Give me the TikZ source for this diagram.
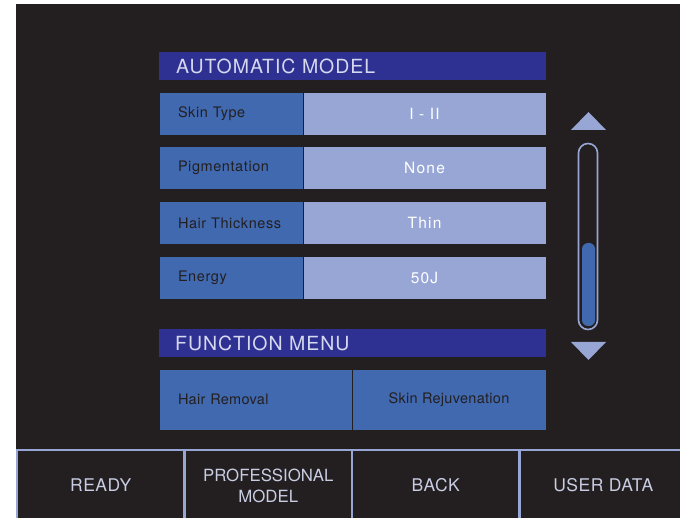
\documentclass[tikz,border=0pt]{standalone}
\usepackage{fontspec}
\setmainfont{TeX Gyre Heros}
\definecolor{panel}{HTML}{231F20}
\definecolor{titleblue}{HTML}{2E3192}
\definecolor{keyblue}{HTML}{4169B0}
\definecolor{lav}{HTML}{98A6D6}
\definecolor{softtext}{HTML}{D6D9EE}
\definecolor{tabtext}{HTML}{C9CDE3}

\begin{document}
\begin{tikzpicture}[x=1pt,y=-1pt,
    title/.style={fill=titleblue,text=softtext,anchor=north west,inner sep=0pt,inner xsep=17pt,
        text width=353pt,align=left,minimum height=28pt,font=\fontsize{19.5}{20}\selectfont\addfontfeature{LetterSpace=5}},
    key/.style={fill=keyblue,draw=panel,line width=0.6pt,outer sep=0pt,anchor=north west,inner sep=0pt,
        inner xsep=19pt,text width=106pt,align=left,minimum height=43pt,text=panel,
        font=\fontsize{14.5}{16}\selectfont\addfontfeature{LetterSpace=4}},
    value/.style={fill=lav,draw=panel,line width=0.6pt,outer sep=0pt,anchor=north west,inner sep=0pt,
        minimum width=243pt,minimum height=43pt,text=white,font=\fontsize{15.5}{17}\selectfont\addfontfeature{LetterSpace=8}},
    func/.style={fill=keyblue,draw=panel,line width=0.6pt,outer sep=0pt,anchor=north west,inner sep=0pt,
        minimum height=61pt,text=panel,font=\fontsize{14.5}{16}\selectfont\addfontfeature{LetterSpace=2}},
    tab/.style={fill=panel,draw=lav,line width=2.5pt,outer sep=0pt,anchor=north west,inner sep=0pt,
        minimum width=167.5pt,minimum height=71pt,align=center,text=tabtext,
        font=\fontsize{17.5}{21}\selectfont\addfontfeature{LetterSpace=3}}]
    \useasboundingbox (0,0) rectangle (680,518);
    \fill[panel] (16,4) rectangle (680,518);
    \begin{scope}
        \clip (16,4) rectangle (680,518);
        \node[title] (auto) at (159,52) {AUTOMATIC MODEL};
        \foreach \k/\v [count=\i] in {Skin Type/I - II,Pigmentation/None,Hair Thickness/Thin,Energy/50J}{
            \pgfmathsetmacro{\ty}{92+(\i-1)*54.67}
            \node[key] (key\i) at (159,\ty) {\k};
            \node[value] (val\i) at (key\i.north east) {\v};
        }
        \node[title,inner xsep=16pt,text width=355pt] (menu) at (159,329) {FUNCTION MENU};
        \node[func,inner xsep=19pt,text width=155pt,align=left] (hair) at (159,369) {Hair Removal};
        \node[func,minimum width=194pt] (rejuv) at (hair.north east) {Skin Rejuvenation};
        \node[tab] (ready) at (17,450) {READY};
        \node[tab,font=\fontsize{16.8}{21}\selectfont] (pro) at (ready.north east) {PROFESSIONAL\\MODEL};
        \node[tab] (back) at (pro.north east) {BACK};
        \node[tab] (user) at (back.north east) {USER DATA};
        \fill[lav] (571,130) -- (606,130) -- (588.5,112) -- cycle;
        \fill[lav] (571,342) -- (606,342) -- (588.5,360) -- cycle;
        \draw[lav,line width=1.6pt,rounded corners=9.5pt] (578.5,143.5) rectangle (597.5,329.5);
        \fill[keyblue,rounded corners=6pt] (582,243) rectangle (595,326);
    \end{scope}
\end{tikzpicture}
\end{document}
